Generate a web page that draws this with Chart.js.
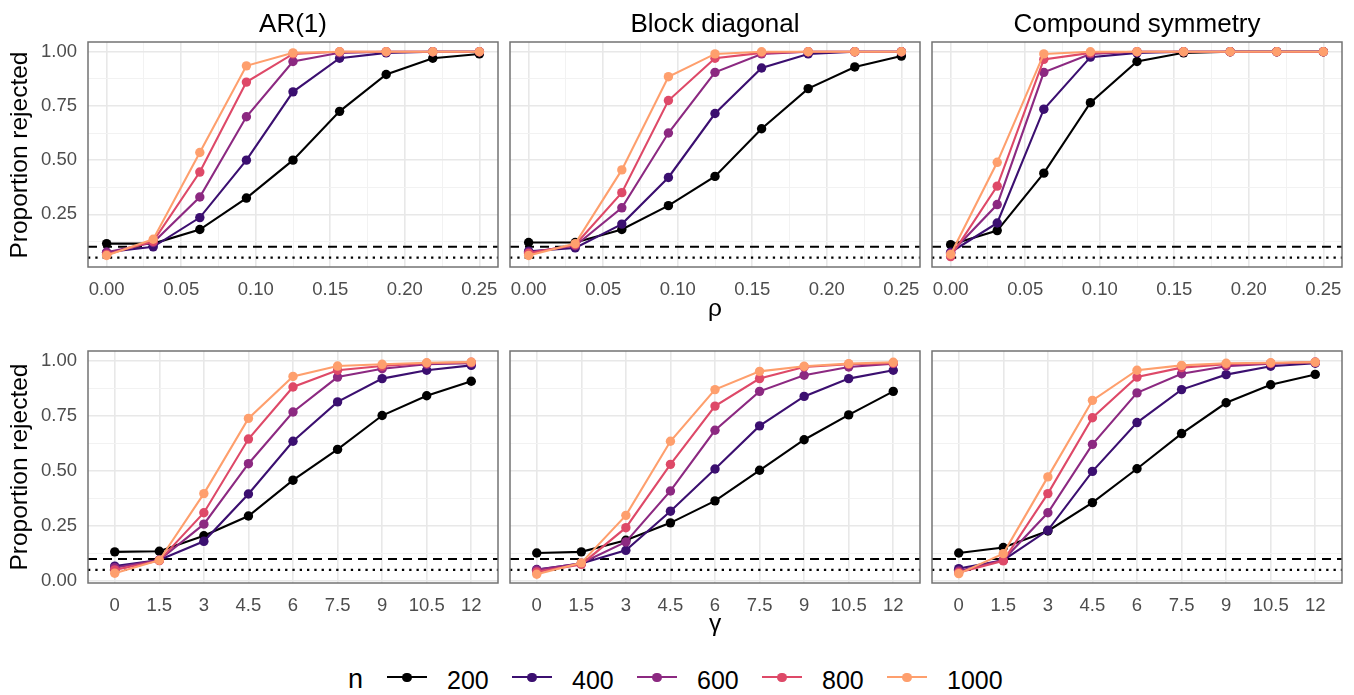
<!DOCTYPE html>
<html lang="en">
<head>
<meta charset="UTF-8">
<title>Proportion rejected</title>
<script src="https://cdn.jsdelivr.net/npm/chart.js"></script>
<style>
  body { margin: 0; background: #fff; font-family: "Liberation Sans", Arial, sans-serif; }
  #wrap { position: relative; width: 1354px; height: 695px; overflow: hidden; }
  #wrap canvas, .lbl { position: absolute; }
  .lbl { color: #000; white-space: nowrap; }
  .strip { font-size: 26px; line-height: 30px; text-align: center; top: 8px; }
  .ytitle { font-size: 24.5px; line-height: 30px; width: 300px; height: 30px; text-align: center; transform: rotate(-90deg); }
  .xtitle { font-size: 24.5px; line-height: 30px; text-align: center; }
  .key-line { position: absolute; height: 2.2px; width: 40px; }
  .key-dot { position: absolute; width: 9.5px; height: 9.5px; border-radius: 50%; }
</style>
</head>
<body>
<div id="wrap"></div>

<script>
  // ---- data ----
  const nLabels = ['200', '400', '600', '800', '1000'];
  const nColors = ['#000000', '#3b0f70', '#8c2981', '#de4968', '#fe9f6d'];
  const panelTitles = ['AR(1)', 'Block diagonal', 'Compound symmetry'];

  const rhoValues = [0, 0.03125, 0.0625, 0.09375, 0.125, 0.15625, 0.1875, 0.21875, 0.25];
  const gammaValues = [0, 1.5, 3, 4.5, 6, 7.5, 9, 10.5, 12];

  const rhoTicks = [0, 0.05, 0.10, 0.15, 0.20, 0.25];
  const rhoTickLabels = ['0.00', '0.05', '0.10', '0.15', '0.20', '0.25'];
  const gammaTicks = [0, 1.5, 3, 4.5, 6, 7.5, 9, 10.5, 12];
  const gammaTickLabels = ['0', '1.5', '3', '4.5', '6', '7.5', '9', '10.5', '12'];
  const yTicks = [0, 0.25, 0.5, 0.75, 1];
  const yTickLabels = ['0.00', '0.25', '0.50', '0.75', '1.00'];

  const alphaLevels = [0.1, 0.05]; // dashed, dotted

  // rows: n = 200, 400, 600, 800, 1000
  const ar1Rho = [
    [0.115, 0.115, 0.18, 0.325, 0.50, 0.725, 0.895, 0.97, 0.99],
    [0.075, 0.10, 0.235, 0.50, 0.815, 0.97, 0.995, 1.0, 1.0],
    [0.075, 0.12, 0.33, 0.70, 0.955, 0.995, 1.0, 1.0, 1.0],
    [0.065, 0.125, 0.445, 0.86, 0.99, 1.0, 1.0, 1.0, 1.0],
    [0.06, 0.135, 0.535, 0.935, 0.995, 1.0, 1.0, 1.0, 1.0]
  ];
  const blockRho = [
    [0.12, 0.12, 0.18, 0.29, 0.425, 0.645, 0.83, 0.93, 0.98],
    [0.08, 0.095, 0.205, 0.42, 0.715, 0.925, 0.99, 1.0, 1.0],
    [0.075, 0.105, 0.28, 0.625, 0.905, 0.99, 1.0, 1.0, 1.0],
    [0.07, 0.11, 0.35, 0.775, 0.97, 0.995, 1.0, 1.0, 1.0],
    [0.06, 0.115, 0.455, 0.885, 0.99, 1.0, 1.0, 1.0, 1.0]
  ];
  const csRho = [
    [0.11, 0.175, 0.44, 0.765, 0.955, 0.995, 1.0, 1.0, 1.0],
    [0.075, 0.21, 0.735, 0.975, 0.995, 1.0, 1.0, 1.0, 1.0],
    [0.07, 0.295, 0.905, 0.99, 1.0, 1.0, 1.0, 1.0, 1.0],
    [0.055, 0.38, 0.965, 0.995, 1.0, 1.0, 1.0, 1.0, 1.0],
    [0.065, 0.49, 0.99, 1.0, 1.0, 1.0, 1.0, 1.0, 1.0]
  ];
  const ar1Gamma = [
    [0.132, 0.135, 0.205, 0.295, 0.458, 0.598, 0.752, 0.842, 0.908],
    [0.067, 0.095, 0.18, 0.395, 0.635, 0.814, 0.92, 0.958, 0.98],
    [0.06, 0.095, 0.258, 0.533, 0.768, 0.927, 0.965, 0.985, 0.99],
    [0.05, 0.092, 0.31, 0.645, 0.882, 0.958, 0.977, 0.99, 0.994],
    [0.035, 0.094, 0.397, 0.739, 0.93, 0.977, 0.985, 0.992, 0.995]
  ];
  const blockGamma = [
    [0.127, 0.132, 0.185, 0.264, 0.364, 0.503, 0.642, 0.755, 0.862],
    [0.052, 0.079, 0.139, 0.317, 0.509, 0.705, 0.839, 0.92, 0.958],
    [0.05, 0.08, 0.177, 0.409, 0.685, 0.862, 0.935, 0.973, 0.988],
    [0.041, 0.075, 0.242, 0.53, 0.795, 0.92, 0.973, 0.985, 0.99],
    [0.03, 0.082, 0.298, 0.635, 0.87, 0.953, 0.976, 0.988, 0.994]
  ];
  const csGamma = [
    [0.127, 0.152, 0.227, 0.356, 0.51, 0.67, 0.81, 0.892, 0.939],
    [0.056, 0.094, 0.23, 0.498, 0.72, 0.87, 0.938, 0.976, 0.99],
    [0.045, 0.095, 0.31, 0.621, 0.855, 0.942, 0.976, 0.988, 0.994],
    [0.038, 0.091, 0.397, 0.742, 0.927, 0.97, 0.985, 0.99, 0.994],
    [0.033, 0.124, 0.473, 0.821, 0.958, 0.98, 0.99, 0.992, 0.995]
  ];

  // ---- layout ----
  const FONT = '"Liberation Sans", Arial, sans-serif';
  const colLeft = [88, 510, 932];
  const panelW = 410;
  const XH = 40;
  const rows = [
    { top: 42, h: 225, x: rhoValues, xTicks: rhoTicks, xLabels: rhoTickLabels, minorX: true,
      xMin: -0.0125, xMax: 0.2625, yMin: 0.007, yMax: 1.045, xTitle: 'ρ', xTitleTop: 292.6,
      data: [ar1Rho, blockRho, csRho] },
    { top: 351, h: 232, x: gammaValues, xTicks: gammaTicks, xLabels: gammaTickLabels, minorX: false,
      xMin: -0.9, xMax: 12.9, yMin: -0.0096, yMax: 1.0455, xTitle: 'γ', xTitleTop: 607.6,
      data: [ar1Gamma, blockGamma, csGamma] }
  ];

  const wrap = document.getElementById('wrap');

  function addLabel(cls, text, css) {
    const d = document.createElement('div');
    d.className = 'lbl ' + cls;
    d.textContent = text;
    Object.assign(d.style, css);
    wrap.appendChild(d);
    return d;
  }

  function buildTicks(major, withMinor, lo, hi) {
    const out = major.map(v => ({ value: v, minor: false }));
    if (withMinor) {
      for (let i = 0; i < major.length - 1; i++) {
        out.push({ value: (major[i] + major[i + 1]) / 2, minor: true });
      }
    }
    return out.filter(t => t.value >= lo - 1e-9 && t.value <= hi + 1e-9)
              .sort((a, b) => a.value - b.value);
  }

  function labelFor(major, labels) {
    return function (value, index, ticks) {
      if (ticks[index].minor) return '';
      const k = major.findIndex(m => Math.abs(m - value) < 1e-9);
      return k >= 0 ? labels[k] : '';
    };
  }

  const gridColor = ctx => (ctx.tick && ctx.tick.minor) ? '#f2f2f2' : '#e8e8e8';
  const gridWidth = ctx => (ctx.tick && ctx.tick.minor) ? 1 : 1.6;

  function noPad(s) {
    s.paddingLeft = 0; s.paddingRight = 0; s.paddingTop = 0; s.paddingBottom = 0;
  }

  const panelBorder = {
    id: 'panelBorder',
    afterDraw(chart) {
      const a = chart.chartArea, ctx = chart.ctx;
      ctx.save();
      ctx.strokeStyle = '#737373';
      ctx.lineWidth = 1.5;
      ctx.strokeRect(a.left, a.top, a.right - a.left, a.bottom - a.top);
      ctx.restore();
    }
  };

  rows.forEach((row, r) => {
    colLeft.forEach((left, c) => {
      const yw = c === 0 ? 85 : 6;
      const canvas = document.createElement('canvas');
      canvas.width = yw + panelW + 8;
      canvas.height = 6 + row.h + XH;
      canvas.style.left = (left - yw) + 'px';
      canvas.style.top = (row.top - 6) + 'px';
      wrap.appendChild(canvas);

      const datasets = [];
      nLabels.forEach((n, i) => {
        datasets.push({
          label: n,
          data: row.x.map((xv, j) => ({ x: xv, y: row.data[c][i][j] })),
          borderColor: nColors[i],
          backgroundColor: nColors[i],
          borderWidth: 2.1,
          pointRadius: 4.7,
          pointBorderWidth: 0,
          pointBackgroundColor: nColors[i],
          order: nLabels.length - i
        });
      });
      alphaLevels.forEach((lvl, k) => {
        datasets.push({
          label: 'alpha ' + lvl,
          data: [{ x: row.xMin, y: lvl }, { x: row.xMax, y: lvl }],
          borderColor: '#000',
          borderWidth: k === 0 ? 2 : 2.3,
          borderDash: k === 0 ? [9, 6] : [2.3, 5],
          borderCapStyle: 'butt',
          pointRadius: 0,
          order: 20
        });
      });

      new Chart(canvas, {
        type: 'line',
        data: { datasets },
        options: {
          responsive: false,
          animation: false,
          events: [],
          layout: { padding: { top: 6, right: 8, left: 0, bottom: 0 } },
          plugins: { legend: { display: false }, tooltip: { enabled: false } },
          scales: {
            x: {
              type: 'linear',
              min: row.xMin,
              max: row.xMax,
              afterBuildTicks: s => { s.ticks = buildTicks(row.xTicks, row.minorX, row.xMin, row.xMax); },
              afterFit: s => { s.height = XH; noPad(s); },
              border: { display: false },
              grid: { color: gridColor, lineWidth: gridWidth, drawTicks: false },
              ticks: {
                autoSkip: false, maxRotation: 0, minRotation: 0, padding: 12,
                color: '#4d4d4d', font: { family: FONT, size: 18.5 },
                callback: labelFor(row.xTicks, row.xLabels)
              }
            },
            y: {
              type: 'linear',
              min: row.yMin,
              max: row.yMax,
              afterBuildTicks: s => { s.ticks = buildTicks(yTicks, true, row.yMin, row.yMax); },
              afterFit: s => { s.width = yw; noPad(s); },
              border: { display: false },
              grid: { color: gridColor, lineWidth: gridWidth, drawTicks: false },
              ticks: {
                display: c === 0, autoSkip: false, padding: 11,
                color: '#4d4d4d', font: { family: FONT, size: 18.5 },
                callback: labelFor(yTicks, yTickLabels)
              }
            }
          }
        },
        plugins: [panelBorder]
      });
    });

    // y title and x title for each row
    const cy = row.top + row.h / 2;
    addLabel('ytitle', 'Proportion rejected', { left: (18.6 - 150) + 'px', top: (cy - 15) + 'px' });
    addLabel('xtitle', row.xTitle, { left: colLeft[1] + 'px', width: panelW + 'px', top: row.xTitleTop + 'px' });
  });

  // facet titles
  panelTitles.forEach((t, c) => {
    addLabel('strip', t, { left: colLeft[c] + 'px', width: panelW + 'px' });
  });

  // legend
  addLabel('', 'n', { left: '348px', top: '664.4px', fontSize: '27px', lineHeight: '30px' });
  nLabels.forEach((n, i) => {
    const x0 = 387 + 125 * i;
    const line = document.createElement('div');
    line.className = 'key-line';
    Object.assign(line.style, { left: x0 + 'px', top: '676.2px', background: nColors[i] });
    wrap.appendChild(line);
    const dot = document.createElement('div');
    dot.className = 'key-dot';
    Object.assign(dot.style, { left: (x0 + 15.25) + 'px', top: '672.5px', background: nColors[i] });
    wrap.appendChild(dot);
    addLabel('', n, { left: (x0 + 60) + 'px', top: '665.1px', fontSize: '25px', lineHeight: '30px' });
  });
</script>
</body>
</html>
